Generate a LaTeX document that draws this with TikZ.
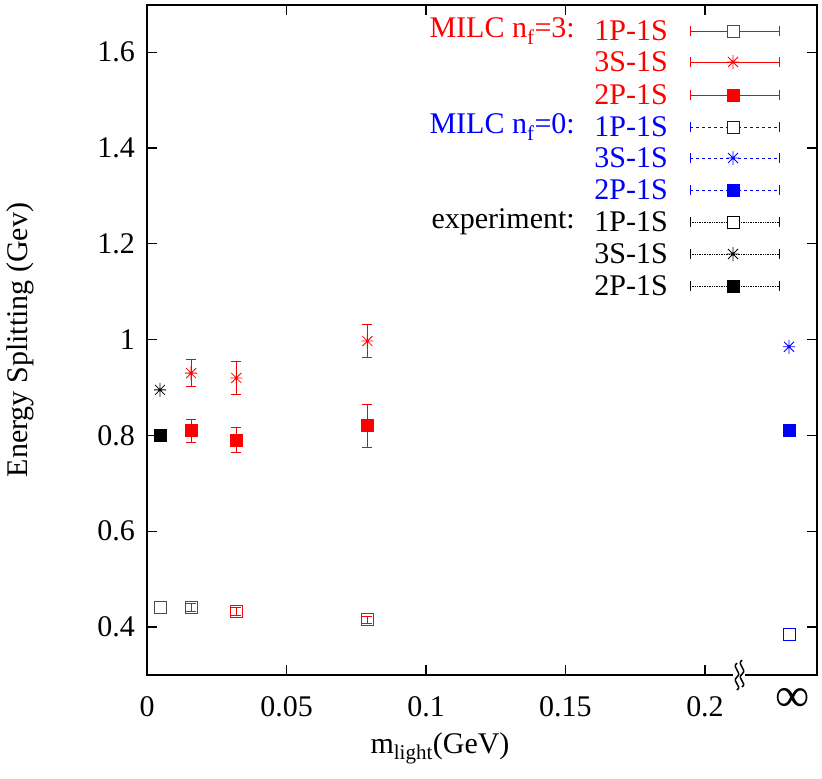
\documentclass[tikz,border=0pt]{standalone}
\usepackage{fontspec}
\setmainfont{Liberation Serif}
\begin{document}
\begin{tikzpicture}[x=1pt,y=-1pt,
  lbl/.style={font=\fontsize{30}{30}\selectfont, inner sep=0pt},
  axis/.style={line width=1.3pt},
  eb/.style={line width=0.7pt}]
\useasboundingbox (0,0) rectangle (822,779);
\def\Y#1{627-(#1-0.4)*479}
\def\Xm#1{147+2790*#1}
% markers
\newcommand\mkosq[3]{\draw[draw=#1,line width=0.9pt] ({#2-6},{#3-6}) rectangle ({#2+6},{#3+6});}
\newcommand\mkfsq[3]{\fill[fill=#1] ({#2-6.5},{#3-6.5}) rectangle ({#2+6.5},{#3+6.5});}
\newcommand\mkstm[3]{\draw[draw=#1,line width=0.8pt] ({#2-6},{#3}) -- ({#2+6},{#3}) ({#2},{#3-7}) -- ({#2},{#3+7}) ({#2-5},{#3-5}) -- ({#2+5},{#3+5}) ({#2-5},{#3+5}) -- ({#2+5},{#3-5});}
\newcommand\mkebr[4]{\draw[draw=#1,eb] ({#2},{\Y{#3}-#4*479}) -- ({#2},{\Y{#3}+#4*479}) ({#2-5},{\Y{#3}-#4*479}) -- ({#2+5},{\Y{#3}-#4*479}) ({#2-5},{\Y{#3}+#4*479}) -- ({#2+5},{\Y{#3}+#4*479});}
% frame
\draw[axis] (147,5) -- (147,675) -- (817,675) -- (817,5) -- cycle;
% y ticks
\foreach \v/\t in {0.4/0.4,0.6/0.6,0.8/0.8,1.0/1,1.2/1.2,1.4/1.4,1.6/1.6}{
  \draw[axis] (147,{\Y{\v}}) -- (157,{\Y{\v}}) (807,{\Y{\v}}) -- (817,{\Y{\v}});
  \node[lbl,anchor=east] (yt\t) at (135,{\Y{\v}}) {\t};}
% x ticks
\foreach \v/\t in {0/0,0.05/0.05,0.1/0.1,0.15/0.15,0.2/0.2}{
  \draw[axis] ({\Xm{\v}},675) -- ({\Xm{\v}},665) ({\Xm{\v}},5) -- ({\Xm{\v}},15);
  \node[lbl] (xt\t) at ({\Xm{\v}},707) {\t};}
\node[font=\fontsize{48}{48}\selectfont, inner sep=0pt] (inf) at (793,700) {∞};
% break
\fill[white] (733,660) rectangle (745,690);
\draw[line width=1.5pt] (737,663) .. controls (731,668) and (743,672) .. (737,677) .. controls (731,682) and (743,686) .. (737,690);
\draw[line width=1.5pt] (742,660) .. controls (736,665) and (748,669) .. (742,674) .. controls (736,679) and (748,683) .. (742,687);
% axis labels
\node[lbl,rotate=90] (ylab) at (20,340) {Energy Splitting (Gev)};
\node[lbl] (xlab) at (440,748) {m\textsubscript{light}(GeV)};
% data red
\foreach \m/\v/\e in {0.0158/0.93/0.028,0.032/0.92/0.034,0.079/0.997/0.034}{
  \mkebr{red}{\Xm{\m}}{\v}{\e} \mkstm{red}{\Xm{\m}}{\Y{\v}}}
\foreach \m/\v/\e in {0.0158/0.81/0.024,0.032/0.79/0.026,0.079/0.82/0.045}{
  \mkebr{red}{\Xm{\m}}{\v}{\e} \mkfsq{red}{\Xm{\m}}{\Y{\v}}}
\foreach \m/\v/\e in {0.0158/0.441/0.008,0.032/0.432/0.008,0.079/0.415/0.008}{
  \mkebr{red}{\Xm{\m}}{\v}{\e} \mkosq{red}{\Xm{\m}}{\Y{\v}}}
% experiment
\mkstm{black}{160}{\Y{0.895}} \mkfsq{black}{160}{\Y{0.80}} \mkosq{black!70}{160}{\Y{0.44}}
% blue
\mkstm{blue}{789}{\Y{0.985}} \mkfsq{blue}{789}{\Y{0.81}} \mkosq{blue}{789}{\Y{0.385}}
% legend
\foreach \yy/\c/\s/\lab/\mk in {31/red/solid/1P-1S/o,62/red/solid/3S-1S/s,95/red/solid/2P-1S/f,
  127/blue/dashed/1P-1S/o,158/blue/dashed/3S-1S/s,190/blue/dashed/2P-1S/f,
  222/black/densely dotted/1P-1S/o,254/black/densely dotted/3S-1S/s,286/black/densely dotted/2P-1S/f}{
  \node[lbl,anchor=east,text=\c] at (668,\yy) {\lab};
  \draw[draw=\c,\s,line width=0.7pt] (690,\yy) -- (779,\yy);
  \draw[draw=\c,line width=0.7pt] (690,\yy-5) -- (690,\yy+5) (779,\yy-5) -- (779,\yy+5);
  \if o\mk \fill[white] (727,\yy-6) rectangle (739,\yy+6); \mkosq{\c}{733}{\yy}\fi
  \if s\mk \mkstm{\c}{733}{\yy}\fi
  \if f\mk \mkfsq{\c}{733}{\yy}\fi}
\node[lbl,anchor=east,text=red] (g1) at (575,31) {MILC n\textsubscript{f}=3:};
\node[lbl,anchor=east,text=blue] (g2) at (575,127) {MILC n\textsubscript{f}=0:};
\node[lbl,anchor=east] (g3) at (575,222) {experiment:};
\end{tikzpicture}
\end{document}
